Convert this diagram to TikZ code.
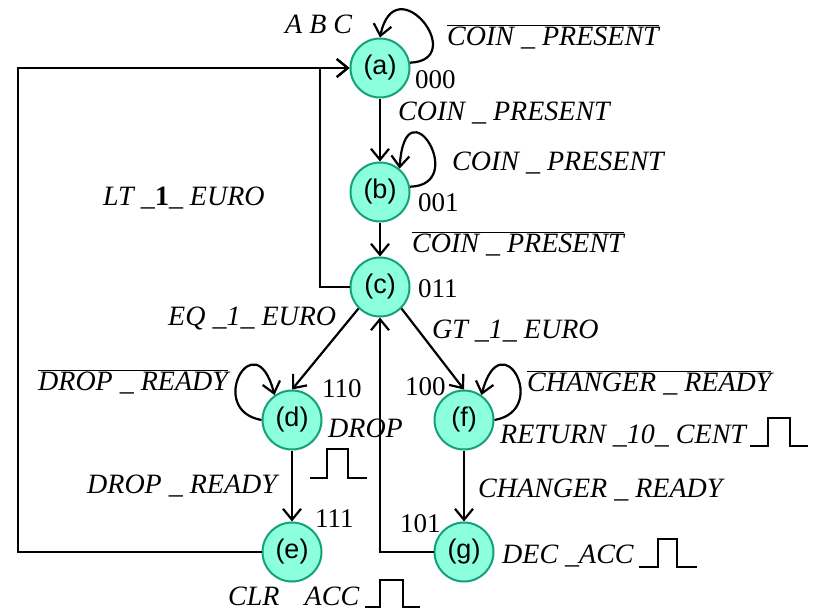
\documentclass[tikz,border=0pt]{standalone}
\usepackage{fontspec}
\setmainfont{Liberation Serif}
\newfontfamily\statefont{Liberation Sans}
\usepackage{tikz}
\usetikzlibrary{arrows.meta,positioning}

\definecolor{statefill}{RGB}{140,255,220}
\definecolor{stateline}{RGB}{20,160,120}

\tikzset{
    state/.style={circle, draw=stateline, line width=2pt, fill=statefill,
        minimum size=59pt, inner sep=0pt, font=\statefont\fontsize{27}{30}\selectfont},
    sig/.style={anchor=base west, inner sep=0pt, font=\itshape\fontsize{28}{32}\selectfont},
    code/.style={anchor=base west, inner sep=0pt, font=\fontsize{27}{30}\selectfont},
    arc/.style={line width=2.2pt, -{Straight Barb[length=11pt,width=18pt]}},
    pulse/.style={line width=2.8pt}
}

\begin{document}
\begin{tikzpicture}[x=1pt,y=-1pt]
    \useasboundingbox (0,0) rectangle (813,611);

    % States
    \node[state] (a) at (380,68) {(a)};
    \node[state] (b) at (380,192) {(b)};
    \node[state] (c) at (380,287) {(c)};
    \node[state] (d) at (292,420) {(d)};
    \node[state] (e) at (292,552) {(e)};
    \node[state] (f) at (464,420) {(f)};
    \node[state] (g) at (464,552) {(g)};

    % Transitions
    \draw[arc] (a) -- (b);
    \draw[arc] (b) -- (c);
    \draw[arc] (c.south west) -- (d.north);
    \draw[arc] (c.south east) -- (f.north);
    \draw[arc] (d) -- (e);
    \draw[arc] (f) -- (g);
    \draw[arc] (g.west) -| (c.south);
    \coordinate (back) at (320,68);
    \draw[arc] (c.west) -| (back) -- (a.west);
    \coordinate (outer) at (18,68);
    \draw[arc] (e.west) -| (outer) -- (a.west);

    % Self loops
    \draw[arc] (a.10) .. controls (470,60) and (395,-35) .. (a.north);
    \draw[arc] (b.10) .. controls (470,185) and (405,80) .. (b.50);
    \draw[arc] (d.west) .. controls (205,410) and (255,320) .. (d.125);
    \draw[arc] (f.east) .. controls (551,410) and (501,320) .. (f.55);

    % State codes
    \node[code] (ca) at (415,88) {000};
    \node[code] (cb) at (418,211) {001};
    \node[code] (cc) at (418,297) {011};
    \node[code] (cd) at (322,397) {110};
    \node[code] (ce) at (315,527) {111};
    \node[code] (cf) at (405,395) {100};
    \node[code] (cg) at (400,532) {101};

    % Labels
    \node[sig] (abc) at (285,33) {A B C};
    \node[sig] (la) at (447,45) {$\overline{\mbox{COIN \_ PRESENT}}$};
    \node[sig] (lab) at (398,120) {COIN \_ PRESENT};
    \node[sig] (lb) at (452,170) {COIN \_ PRESENT};
    \node[sig] (lbc) at (412,252) {$\overline{\mbox{COIN \_ PRESENT}}$};
    \node[sig] (lca) at (103,205) {LT \_\textup{\textbf{1}}\_ EURO};
    \node[sig] (lcd) at (168,325) {EQ \_1\_ EURO};
    \node[sig] (lcf) at (432,338) {GT \_1\_ EURO};
    \node[sig] (ld) at (38,390) {$\overline{\mbox{DROP \_ READY}}$};
    \node[sig] (lde) at (87,493) {DROP \_ READY};
    \node[sig] (lf) at (527,391) {$\overline{\mbox{CHANGER \_ READY}}$};
    \node[sig] (lfg) at (478,497) {CHANGER \_ READY};

    % Outputs
    \node[sig] (od) at (328,437) {DROP};
    \node[sig] (oe) at (228,605) {CLR\hspace{0.9em}ACC};
    \node[sig] (of) at (500,443) {RETURN \_10\_ CENT};
    \node[sig] (og) at (502,563) {DEC \_ACC};

    % Pulses
    \draw[pulse] (310,478) -- (327,478) -- (327,449) -- (348,449) -- (348,478) -- (367,478);
    \draw[pulse] (365,607) -- (380,607) -- (380,580) -- (403,580) -- (403,607) -- (420,607);
    \draw[pulse] (750,446) -- (768,446) -- (768,418) -- (790,418) -- (790,446) -- (808,446);
    \draw[pulse] (639,567) -- (658,567) -- (658,539) -- (677,539) -- (677,567) -- (697,567);
\end{tikzpicture}
\end{document}
